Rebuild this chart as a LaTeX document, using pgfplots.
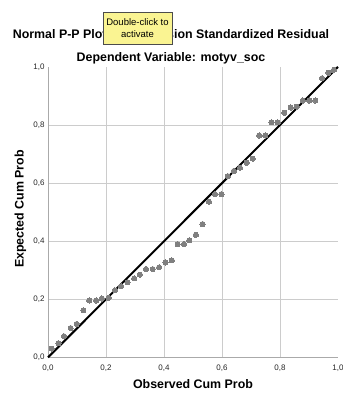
\documentclass[border=0pt]{standalone}
\usepackage{fontspec}
\setmainfont{Liberation Sans}
\usepackage{pgfplots}
\pgfplotsset{compat=1.18}
\definecolor{dotgray}{RGB}{128,128,128}
\definecolor{gridgray}{RGB}{204,204,204}
\definecolor{axisgray}{RGB}{170,170,170}
\definecolor{tipyellow}{RGB}{250,244,146}
\begin{document}
\begin{tikzpicture}[x=1pt,y=1pt]
\useasboundingbox (0,0) rectangle (342,395);
\begin{axis}[
  at={(48pt,37.6pt)}, anchor=south west,
  scale only axis, width=290pt, height=290.5pt,
  xmin=0, xmax=1, ymin=0, ymax=1,
  axis x line*=bottom, axis y line*=left,
  axis line style={axisgray, line width=0.8pt},
  xtick={0,0.2,0.4,0.6,0.8,1}, ytick={0,0.2,0.4,0.6,0.8,1},
  minor xtick={0.2,0.4,0.6,0.8}, minor ytick={0.2,0.4,0.6,0.8},
  grid=minor, minor grid style={gridgray, line width=0.8pt},
  major tick length=0pt, minor tick length=0pt,
  tick label style={font=\fontsize{8}{9}\selectfont, color=black!85},
  xticklabel style={yshift=-3.5pt},
  /pgf/number format/use comma, /pgf/number format/fixed,
  /pgf/number format/fixed zerofill, /pgf/number format/precision=1,
  /pgf/number format/assume math mode=true,
  clip=false,
]
% observed vs expected cumulative probabilities
\addplot[only marks, mark=*, mark size=2.6pt, color=dotgray,
  mark options={draw=dotgray, fill=dotgray, line width=0pt}] coordinates {
(0.013,0.030) (0.036,0.049) (0.055,0.073) (0.078,0.101) (0.099,0.115)
(0.122,0.162) (0.142,0.196) (0.166,0.196) (0.186,0.203) (0.209,0.205)
(0.231,0.231) (0.252,0.245) (0.274,0.259) (0.297,0.272) (0.317,0.285)
(0.338,0.304) (0.361,0.304) (0.383,0.310) (0.405,0.327) (0.427,0.334)
(0.447,0.390) (0.469,0.390) (0.487,0.403) (0.510,0.422) (0.533,0.459)
(0.555,0.536) (0.576,0.562) (0.598,0.562) (0.620,0.624) (0.641,0.642)
(0.662,0.653) (0.685,0.670) (0.706,0.684) (0.728,0.764) (0.749,0.764)
(0.771,0.809) (0.792,0.809) (0.815,0.842) (0.837,0.860) (0.858,0.863)
(0.879,0.884) (0.901,0.884) (0.922,0.884) (0.945,0.961) (0.967,0.980)
(0.986,0.990)
};
% reference diagonal
\addplot[black, line width=2pt] coordinates {(0,0) (1,1)};
\end{axis}
\node[anchor=base, font=\bfseries\fontsize{12.4}{14}\selectfont] at (171,356.7)
  {Normal P-P Plot of Regression Standardized Residual};
\node[anchor=base, font=\bfseries\fontsize{12.4}{14}\selectfont] at (171,333.3)
  {Dependent Variable: motyv\_soc};
\node[anchor=base, font=\bfseries\fontsize{12.4}{14}\selectfont] at (193,6)
  {Observed Cum Prob};
\node[anchor=base, rotate=90, font=\bfseries\fontsize{12.4}{14}\selectfont] at (23.5,186)
  {Expected Cum Prob};
\node[draw=black!70, fill=tipyellow, minimum width=69pt, minimum height=32pt,
  inner sep=0pt, align=center, font=\fontsize{9.5}{11.5}\selectfont] at (137.5,367)
  {Double-click to\\activate};
\end{tikzpicture}
\end{document}
